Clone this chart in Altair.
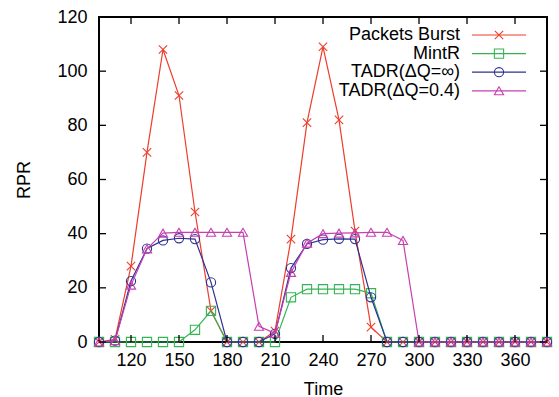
import altair as alt
import pandas as pd

# ---- data ----
time = list(range(100, 390, 10))  # 100 .. 380

packets_burst = [0, 1, 28, 70, 108, 91, 48, 11.5, 0, 0, 0, 4, 38, 81, 109, 82, 41, 5.5,
                 0, 0, 0, 0, 0, 0, 0, 0, 0, 0, 0]
mintr = [0, 0, 0, 0, 0, 0, 4.5, 11.5, 0, 0, 0, 0, 16.5, 19.5, 19.5, 19.5, 19.5, 18,
         0, 0, 0, 0, 0, 0, 0, 0, 0, 0, 0]
tadr_inf = [0, 0.5, 22.5, 34.5, 37.5, 38.3, 38, 22, 0, 0, 0, 3, 27.3, 36.2, 37.8, 38.1, 38, 16.5,
            0, 0, 0, 0, 0, 0, 0, 0, 0, 0, 0]
tadr_04 = [0, 0.5, 21, 34.4, 40.2, 40.5, 40.5, 40.5, 40.5, 40.5, 5.8, 3.2, 25.7, 36.5, 40, 40.2,
           40.3, 40.5, 40.5, 37.5, 0, 0, 0, 0, 0, 0, 0, 0, 0]

series_names = ["Packets Burst", "MintR", "TADR(\u0394Q=\u221e)", "TADR(\u0394Q=0.4)"]
series_values = [packets_burst, mintr, tadr_inf, tadr_04]
series_colors = ["#ee3d2b", "#33b552", "#2e3193", "#c63fb0"]
series_shapes = ["M-1,-1L1,1M-1,1L1,-1", "square", "circle", "triangle-up"]
series_sizes = [70, 85, 85, 85]

x_ticks = [120, 150, 180, 210, 240, 270, 300, 330, 360]
y_ticks = [0, 20, 40, 60, 80, 100, 120]

W, H = 448, 325
FONT = "Liberation Sans"
FS = 18

xscale = alt.Scale(domain=[100, 380], nice=False, zero=False)
yscale = alt.Scale(domain=[0, 120], nice=False)

xaxis = alt.Axis(values=x_ticks, ticks=False, domain=False, grid=False,
                 labelPadding=9, labelFontSize=FS, labelFont=FONT, labelColor="black",
                 title="Time", titleFontSize=FS, titleFont=FONT, titleFontWeight="normal",
                 titleColor="black", titleY=52, titleBaseline="alphabetic")
yaxis = alt.Axis(values=y_ticks, ticks=False, domain=False, grid=False,
                 labelPadding=12, labelFontSize=FS, labelFont=FONT, labelColor="black",
                 title="RPR", titleFontSize=FS, titleFont=FONT, titleFontWeight="normal",
                 titleColor="black", titleX=-70, titleBaseline="alphabetic")


def X(field):
    return alt.X(field, scale=xscale, axis=xaxis, title="Time")


def Y(field):
    return alt.Y(field, scale=yscale, axis=yaxis, title="RPR")


layers = []

# frame
layers.append(alt.Chart(pd.DataFrame({"a": [0]})).mark_rect(
    fill=None, stroke="black", strokeWidth=2).encode(
    x=alt.value(0), x2=alt.value(W), y=alt.value(0), y2=alt.value(H)))

for i, (name, vals) in enumerate(zip(series_names, series_values)):
    df = pd.DataFrame({"Time": time, "RPR": vals, "series": name})
    base = alt.Chart(df)
    layers.append(base.mark_line(color=series_colors[i], strokeWidth=1.2).encode(
        x=X("Time:Q"), y=Y("RPR:Q")))
    layers.append(base.mark_point(shape=series_shapes[i], size=series_sizes[i], filled=False,
                                  color=series_colors[i], strokeWidth=1.1, opacity=1).encode(
        x=X("Time:Q"), y=Y("RPR:Q")))

# inward ticks on all four sides
xt = alt.Chart(pd.DataFrame({"t": x_ticks}))
yt = alt.Chart(pd.DataFrame({"t": y_ticks}))
tick_style = dict(color="black", strokeWidth=1.3)
layers += [
    xt.mark_rule(**tick_style).encode(x=X("t:Q"), y=alt.value(H), y2=alt.value(H - 7)),
    xt.mark_rule(**tick_style).encode(x=X("t:Q"), y=alt.value(0), y2=alt.value(7)),
    yt.mark_rule(**tick_style).encode(y=Y("t:Q"), x=alt.value(0), x2=alt.value(7)),
    yt.mark_rule(**tick_style).encode(y=Y("t:Q"), x=alt.value(W), x2=alt.value(W - 7)),
]

# legend (gnuplot style: right-aligned text, then line sample with marker)
leg = pd.DataFrame({"name": series_names, "row": list(range(len(series_names)))})
for i, name in enumerate(series_names):
    one = alt.Chart(leg[leg["name"] == name])
    ypx = alt.value(18 + i * 18.6)
    layers.append(one.mark_text(align="right", baseline="middle", fontSize=FS, font=FONT,
                                color="black").encode(x=alt.value(361), y=ypx, text="name:N"))
    layers.append(one.mark_rule(color=series_colors[i], strokeWidth=1.2).encode(
        x=alt.value(373), x2=alt.value(427), y=ypx))
    layers.append(one.mark_point(shape=series_shapes[i], size=series_sizes[i], filled=False,
                                 color=series_colors[i], strokeWidth=1.1, opacity=1).encode(
        x=alt.value(400), y=ypx))

chart = alt.layer(*layers).properties(
    width=W, height=H,
    autosize=alt.AutoSizeParams(type="none"),
    padding={"left": 99, "top": 17, "right": 12, "bottom": 55},
).configure_view(stroke=None).configure(background="white")

chart.save("out.html", embed_options={"renderer": "svg", "actions": False})
